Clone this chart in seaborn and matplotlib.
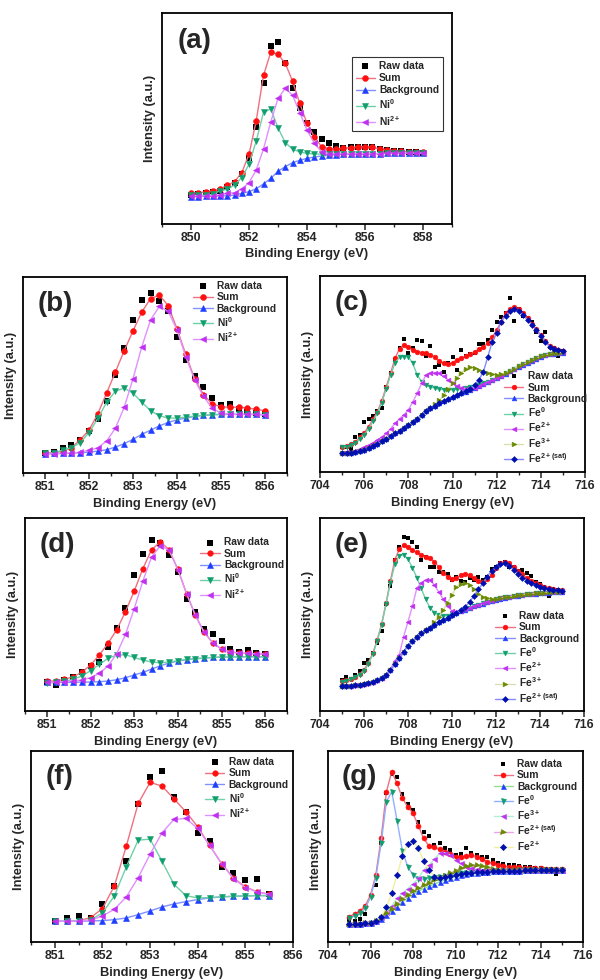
import matplotlib
matplotlib.use("Agg")
import matplotlib.pyplot as plt
from matplotlib.ticker import MultipleLocator
import seaborn as sns

sns.set_style("ticks")
plt.rcParams["font.family"] = ["Liberation Sans", "DejaVu Sans"]
plt.rcParams["font.weight"] = "bold"
plt.rcParams["mathtext.default"] = "regular"

# ---------------- data (arbitrary intensity units) ----------------
# Ni 2p, panel (a)
a_x = [850.0, 850.25, 850.5, 850.75, 851.0, 851.25, 851.5, 851.75, 852.0, 852.25, 852.5,
       852.75, 853.0, 853.25, 853.5, 853.75, 854.0, 854.25, 854.5, 854.75, 855.0, 855.25,
       855.5, 855.75, 856.0, 856.25, 856.5, 856.75, 857.0, 857.25, 857.5, 857.75, 858.0]
a_raw = [87, 89, 92, 95, 100, 112, 124, 150, 197, 290, 424, 535, 547, 482, 409, 347, 302,
         277, 255, 244, 234, 229, 230, 231, 232, 230, 226, 222, 220, 218, 216, 216, 214]
a_sum = [92, 94, 96, 100, 105, 116, 127, 154, 209, 310, 446, 515, 510, 482, 429, 362, 302,
         262, 232, 226, 225, 227, 229, 231, 232, 230, 226, 223, 220, 218, 217, 216, 215]
a_bg = [82, 82, 83, 84, 84, 85, 87, 92, 97, 106, 120, 137, 158, 172, 184, 191, 197, 201,
        204, 206, 208, 209, 210, 210, 211, 211, 211, 212, 212, 212, 212, 212, 212]
a_ni0 = [86, 86, 87, 89, 100, 104, 117, 139, 179, 249, 335, 345, 289, 244, 225, 216, 212,
         210, 210, 210, 210, 210, 211, 211, 211, 211, 211, 212, 212, 212, 212, 212, 212]
a_ni2 = [84, 84, 84, 85, 87, 92, 94, 105, 124, 162, 225, 306, 377, 407, 387, 334, 282,
         242, 217, 211, 210, 210, 211, 211, 211, 211, 211, 212, 212, 212, 212, 212, 212]

# Ni 2p, panels (b) and (d) share the energy grid
bd_x = [851.0, 851.2, 851.4, 851.6, 851.8, 852.0, 852.2, 852.4, 852.6, 852.8, 853.0, 853.2,
        853.4, 853.6, 853.8, 854.0, 854.2, 854.4, 854.6, 854.8, 855.0, 855.2, 855.4, 855.6,
        855.8, 856.0]
b_raw = [60, 61, 73, 83, 97, 125, 160, 215, 290, 371, 455, 513, 535, 512, 480, 403, 337,
         287, 255, 222, 203, 205, 190, 182, 178, 175]
b_sum = [60, 60, 65, 75, 99, 127, 176, 237, 300, 363, 422, 478, 518, 528, 497, 428, 352,
         280, 233, 205, 197, 195, 195, 193, 189, 185]
b_bg = [57, 58, 58, 59, 60, 62, 65, 69, 77, 87, 100, 115, 127, 140, 150, 158, 163, 168,
        171, 173, 174, 174, 174, 174, 174, 173]
b_ni0 = [58, 59, 68, 75, 90, 120, 162, 210, 243, 252, 237, 210, 185, 170, 163, 163, 166,
         169, 171, 173, 174, 174, 174, 174, 174, 173]
b_ni2 = [57, 57, 58, 59, 62, 67, 75, 95, 133, 195, 280, 375, 455, 495, 480, 425, 345, 277,
         228, 192, 178, 175, 174, 174, 174, 173]

d_raw = [88, 78, 93, 101, 118, 135, 148, 191, 248, 309, 409, 471, 515, 505, 469, 417, 336,
         297, 246, 230, 209, 185, 177, 182, 174, 172]
d_sum = [90, 90, 95, 103, 116, 138, 168, 203, 244, 298, 360, 428, 485, 508, 485, 426, 353,
         288, 237, 205, 186, 177, 174, 173, 172, 171]
d_bg = [86, 86, 86, 86, 87, 87, 88, 90, 94, 100, 108, 116, 126, 136, 144, 150, 154, 157,
        159, 161, 162, 162, 163, 163, 163, 163]
d_ni0 = [84, 86, 89, 95, 105, 121, 140, 158, 168, 169, 161, 153, 147, 145, 147, 151, 155,
         157, 159, 161, 162, 162, 163, 163, 163, 163]
d_ni2 = [86, 86, 88, 90, 93, 100, 113, 135, 172, 230, 307, 391, 463, 497, 483, 425, 353,
         288, 237, 205, 186, 178, 175, 173, 172, 171]

# Ni 2p, panel (f)
f_x = [851.0, 851.25, 851.5, 851.75, 852.0, 852.25, 852.5, 852.75, 853.0, 853.25, 853.5,
       853.75, 854.0, 854.25, 854.5, 854.75, 855.0, 855.25, 855.5]
f_raw = [62, 73, 77, 73, 115, 168, 243, 412, 494, 512, 435, 390, 325, 302, 225, 207, 185, 189, 143]
f_sum = [62, 62, 64, 73, 100, 168, 287, 415, 478, 467, 429, 390, 345, 289, 235, 192, 165, 150, 143]
f_bg = [62, 62, 62, 63, 64, 67, 72, 82, 93, 105, 114, 121, 127, 132, 135, 137, 138, 139, 139]
f_ni0 = [62, 62, 63, 66, 87, 138, 225, 305, 308, 242, 173, 139, 132, 133, 135, 137, 138, 139, 139]
f_ni2 = [62, 62, 63, 65, 78, 98, 135, 193, 263, 327, 367, 370, 340, 289, 235, 190, 163, 150, 143]

# Fe 2p, panels (c) and (e) share the energy grid
ce_x = [705.0, 705.2, 705.4, 705.6, 705.8, 706.0, 706.2, 706.4, 706.6, 706.8, 707.0, 707.2,
        707.4, 707.6, 707.8, 708.0, 708.2, 708.4, 708.6, 708.8, 709.0, 709.2, 709.4, 709.6,
        709.8, 710.0, 710.2, 710.4, 710.6, 710.8, 711.0, 711.2, 711.4, 711.6, 711.8, 712.0,
        712.2, 712.4, 712.6, 712.8, 713.0, 713.2, 713.4, 713.6, 713.8, 714.0, 714.2, 714.4,
        714.6, 714.8, 715.0]
c_raw = [76, 76, 69, 106, 111, 149, 158, 168, 184, 192, 256, 298, 336, 373, 398, 358, 371,
         396, 394, 348, 378, 316, 321, 301, 326, 346, 306, 366, 348, 354, 356, 384, 384, 396,
         426, 451, 466, 478, 523, 454, 488, 468, 461, 451, 421, 394, 420, 376, 371, 348, 363]
c_sum = [76, 78, 84, 90, 104, 118, 136, 158, 181, 214, 256, 298, 341, 370, 381, 374, 366,
         361, 358, 356, 351, 346, 333, 326, 324, 328, 336, 341, 348, 353, 361, 368, 376, 386,
         404, 426, 451, 476, 490, 494, 490, 476, 461, 444, 428, 411, 394, 379, 371, 366, 363]
c_bg = [56, 57, 58, 60, 63, 66, 71, 77, 84, 92, 100, 108, 116, 124, 132, 140, 150, 160, 171,
        182, 192, 199, 206, 213, 220, 226, 231, 236, 241, 246, 251, 257, 263, 269, 275, 281,
        288, 295, 302, 309, 316, 322, 328, 334, 340, 346, 350, 353, 355, 357, 358]
c_fe0 = [74, 76, 80, 86, 98, 112, 130, 152, 176, 208, 250, 290, 328, 344, 346, 346, 326,
         291, 271, 261, 256, 251, 249, 247, 246, 247, 248, 250, 252, 255, 258, 262, 266, 270,
         276, 282, 289, 296, 303, 310, 317, 323, 329, 335, 341, 347, 351, 354, 356, 358, 359]
c_fe2 = [58, 59, 61, 64, 68, 74, 80, 88, 96, 105, 116, 130, 146, 160, 172, 186, 210, 236,
         266, 291, 298, 298, 296, 288, 276, 266, 258, 253, 250, 250, 253, 258, 264, 270, 276,
         282, 289, 296, 303, 310, 317, 323, 329, 335, 341, 347, 351, 354, 356, 358, 359]
c_fe3 = [56, 57, 58, 60, 63, 66, 71, 77, 84, 92, 100, 108, 116, 124, 132, 140, 150, 160, 171,
         182, 192, 203, 215, 230, 248, 266, 282, 298, 310, 314, 312, 306, 301, 296, 293, 292,
         293, 297, 303, 310, 317, 323, 329, 335, 341, 347, 351, 354, 356, 358, 359]
c_sat = [56, 57, 58, 60, 63, 66, 71, 77, 84, 92, 100, 108, 116, 124, 132, 140, 150, 160, 171,
         182, 192, 199, 206, 213, 220, 226, 231, 238, 243, 250, 261, 277, 301, 346, 391, 416,
         451, 468, 483, 488, 483, 471, 456, 441, 426, 408, 391, 376, 370, 366, 362]

e_raw = [93, 103, 95, 108, 121, 145, 153, 175, 203, 241, 321, 375, 453, 493, 521, 518, 508,
         493, 453, 461, 433, 433, 418, 418, 411, 393, 401, 391, 388, 398, 393, 403, 393, 403,
         425, 431, 445, 448, 431, 433, 421, 423, 413, 405, 388, 381, 373, 345, 366, 363, 361]
e_sum = [90, 93, 97, 103, 111, 123, 145, 173, 213, 261, 323, 391, 453, 485, 498, 493, 483,
         476, 468, 463, 458, 448, 431, 415, 401, 395, 400, 407, 410, 407, 398, 390, 388, 396,
         408, 428, 443, 448, 443, 431, 421, 410, 400, 391, 383, 377, 373, 369, 366, 364, 362]
e_bg = [75, 75, 76, 77, 79, 81, 84, 88, 94, 100, 108, 122, 140, 158, 178, 196, 210, 222, 233,
        242, 250, 258, 266, 273, 280, 287, 293, 299, 304, 309, 314, 318, 322, 326, 330, 334,
        337, 340, 342, 344, 346, 348, 350, 351, 352, 353, 354, 355, 356, 357, 358]
e_fe0 = [88, 91, 95, 101, 109, 120, 142, 170, 210, 258, 320, 385, 440, 466, 468, 455, 430,
         400, 368, 335, 310, 295, 288, 285, 285, 290, 295, 300, 305, 310, 315, 319, 323, 327,
         331, 335, 338, 341, 343, 345, 347, 349, 351, 352, 353, 354, 355, 356, 357, 358, 359]
e_fe2 = [75, 75, 76, 77, 79, 81, 84, 88, 94, 100, 110, 126, 150, 168, 223, 268, 315, 368,
         385, 393, 393, 378, 357, 335, 315, 300, 297, 301, 305, 310, 315, 319, 323, 327, 331,
         335, 338, 341, 343, 345, 347, 349, 351, 352, 353, 354, 355, 356, 357, 358, 359]
e_fe3 = [75, 75, 76, 77, 79, 81, 84, 88, 94, 100, 108, 122, 140, 158, 178, 196, 210, 222,
         233, 242, 250, 268, 282, 302, 325, 348, 372, 381, 383, 377, 365, 352, 343, 338, 336,
         336, 338, 341, 343, 345, 347, 349, 351, 352, 353, 354, 355, 356, 357, 358, 359]
e_sat = [75, 75, 76, 77, 79, 81, 84, 88, 94, 100, 108, 122, 140, 158, 178, 196, 210, 222,
         233, 242, 250, 258, 266, 273, 280, 287, 293, 302, 312, 328, 345, 365, 383, 403, 421,
         431, 441, 443, 435, 423, 411, 400, 391, 383, 377, 373, 369, 366, 364, 362, 360]

# Fe 2p, panel (g)
g_x = [705.0, 705.25, 705.5, 705.75, 706.0, 706.25, 706.5, 706.75, 707.0, 707.25, 707.5,
       707.75, 708.0, 708.25, 708.5, 708.75, 709.0, 709.25, 709.5, 709.75, 710.0, 710.25,
       710.5, 710.75, 711.0, 711.25, 711.5, 711.75, 712.0, 712.25, 712.5, 712.75, 713.0,
       713.25, 713.5, 713.75, 714.0, 714.25, 714.5, 714.75, 715.0]
g_raw = [66, 64, 69, 83, 139, 171, 296, 446, 503, 496, 443, 414, 396, 361, 331, 318, 291,
         296, 281, 276, 261, 264, 281, 268, 261, 256, 256, 246, 238, 234, 231, 231, 228, 226,
         224, 221, 221, 220, 218, 204, 218]
g_sum = [76, 84, 93, 108, 141, 201, 311, 451, 511, 476, 431, 406, 386, 349, 311, 288, 284,
         278, 271, 264, 256, 256, 258, 260, 256, 248, 241, 236, 231, 228, 226, 225, 224, 223,
         222, 221, 221, 220, 220, 219, 218]
g_bg = [54, 54, 54, 56, 58, 62, 70, 80, 92, 106, 120, 132, 143, 152, 160, 167, 174, 180, 186,
        191, 196, 200, 203, 206, 208, 210, 211, 212, 213, 213, 214, 214, 214, 215, 215, 215,
        215, 215, 215, 215, 215]
g_fe0 = [71, 78, 86, 101, 134, 193, 296, 421, 451, 364, 274, 226, 201, 189, 189, 191, 194,
         196, 199, 202, 204, 206, 208, 209, 210, 211, 212, 213, 213, 214, 214, 214, 215, 215,
         215, 215, 215, 215, 215, 215, 215]
g_fe3 = [55, 55, 56, 58, 61, 66, 76, 90, 108, 131, 146, 160, 174, 191, 216, 230, 248, 266,
         268, 261, 246, 236, 226, 221, 218, 216, 216, 215, 215, 215, 215, 215, 215, 215, 215,
         215, 215, 215, 215, 215, 215]
g_sat = [54, 54, 54, 56, 58, 62, 72, 86, 98, 114, 129, 141, 152, 161, 170, 178, 186, 193,
         199, 206, 214, 221, 228, 231, 231, 228, 224, 220, 217, 216, 215, 215, 215, 215, 215,
         215, 215, 215, 215, 215, 215]
g_fe2 = [54, 54, 54, 56, 58, 62, 76, 104, 148, 201, 258, 294, 303, 281, 244, 216, 196, 193,
         196, 199, 202, 204, 206, 208, 209, 210, 211, 212, 213, 213, 214, 214, 214, 215, 215,
         215, 215, 215, 215, 215, 215]

ni_labels = ["Raw data", "Sum", "Background", "Ni$^{0}$", "Ni$^{2+}$"]
fe_labels = ["Raw data", "Sum", "Background", "Fe$^{0}$", "Fe$^{2+}$", "Fe$^{3+}$", "Fe$^{2+(sat)}$"]
g_labels = ["Raw data", "Sum", "Background", "Fe$^{0}$", "Fe$^{3+}$", "Fe$^{2+(sat)}$", "Fe$^{2+}$"]

# marker, marker colour, line colour for each fitted curve
ni_styles = [("o", "#ff1010", "#f07080"), ("^", "#1f3fff", "#8090ff"),
             ("v", "#119e6e", "#70d0a8"), ("<", "#c030f0", "#e090ff")]
fe_styles = [("o", "#ff1010", "#f07080"), ("^", "#1f3fff", "#8090ff"),
             ("v", "#119e6e", "#70d0a8"), ("<", "#c030f0", "#e090ff"),
             (">", "#6a8a00", "#d8e0b0"), ("D", "#0010b0", "#8888ff")]
g_styles = [("o", "#ff1010", "#f07080"), ("^", "#1f3fff", "#90e090"),
            ("v", "#119e6e", "#90b0ff"), ("<", "#c030f0", "#b0f0d0"),
            (">", "#6a8a00", "#f0a0f0"), ("D", "#0010b0", "#f0f0a0")]

FW, FH = 600, 980
fig = plt.figure(figsize=(FW / 100, FH / 100), dpi=100)


def panel(px, letter, x, raw, curves, styles, labels, xlim, major, minor, ymax,
          leg_anchor, frame=False, ms=4.0, raw_s=13, dsize=None):
    l, t, r, b = px
    ax = fig.add_axes([l / FW, 1 - b / FH, (r - l) / FW, (b - t) / FH])
    sns.scatterplot(x=x, y=raw, marker="s", color="black", s=raw_s, linewidth=0,
                    ax=ax, label=labels[0], zorder=2)
    for i, (y, (m, mc, lc)) in enumerate(zip(curves, styles)):
        size = ms * 0.8 if (m == "D" and dsize is None) else (dsize if m == "D" else ms)
        sns.lineplot(x=x, y=y, ax=ax, color=lc, lw=1.0, marker=m, markersize=size,
                     markerfacecolor=mc, markeredgecolor=mc, markeredgewidth=0.4,
                     label=labels[i + 1], estimator=None, sort=False, zorder=3 + i)
    ax.set_xlim(*xlim)
    ax.set_ylim(0, ymax)
    ax.xaxis.set_major_locator(MultipleLocator(major))
    ax.xaxis.set_minor_locator(MultipleLocator(minor))
    ax.set_yticks([])
    ax.tick_params(axis="x", which="major", direction="out", length=4, width=1.1,
                   labelsize=8.8, pad=2)
    ax.tick_params(axis="x", which="minor", direction="out", length=2.5, width=1.0)
    for lab in ax.get_xticklabels():
        lab.set_fontweight("bold")
    for sp in ax.spines.values():
        sp.set_linewidth(1.3)
        sp.set_color("black")
    ax.set_xlabel("Binding Energy (eV)", fontsize=9.3, fontweight="bold", labelpad=3)
    ax.set_ylabel("Intensity (a.u.)", fontsize=9.3, fontweight="bold", labelpad=4)
    ax.text(0.055, 0.93, letter, transform=ax.transAxes, fontsize=20,
            fontweight="bold", va="top", ha="left")
    leg = ax.legend(loc="upper left", bbox_to_anchor=leg_anchor, frameon=frame,
                    prop={"weight": "bold", "size": 7.4}, handlelength=1.9,
                    handletextpad=0.4, labelspacing=0.22 if frame else 0.14,
                    borderpad=0.35 if frame else 0.1, borderaxespad=0, fancybox=False)
    if frame:
        leg.get_frame().set_edgecolor("black")
        leg.get_frame().set_linewidth(0.8)
    return ax


panel((162, 13, 452, 224), "(a)", a_x, a_raw, [a_sum, a_bg, a_ni0, a_ni2], ni_styles,
      ni_labels, (849, 859), 2, 1, 633, (0.655, 0.79), frame=True, ms=4.2)
panel((23, 277, 287, 473), "(b)", bd_x, b_raw, [b_sum, b_bg, b_ni0, b_ni2], ni_styles,
      ni_labels, (850.5, 856.5), 1, 0.5, 582, (0.64, 0.985), ms=4.2)
panel((320, 276, 585, 472), "(c)", ce_x, c_raw, [c_sum, c_bg, c_fe0, c_fe2, c_fe3, c_sat],
      fe_styles, fe_labels, (704, 716), 2, 1, 588, (0.69, 0.52), ms=3.4, raw_s=10, dsize=3.0)
panel((25, 518, 287, 711), "(d)", bd_x, d_raw, [d_sum, d_bg, d_ni0, d_ni2], ni_styles,
      ni_labels, (850.5, 856.5), 1, 0.5, 580, (0.665, 0.905), ms=4.0)
panel((320, 518, 584, 711), "(e)", ce_x, e_raw, [e_sum, e_bg, e_fe0, e_fe2, e_fe3, e_sat],
      fe_styles, fe_labels, (704, 716), 2, 1, 579, (0.66, 0.525), ms=3.4, raw_s=10, dsize=3.0)
panel((31, 751, 293, 942), "(f)", f_x, f_raw, [f_sum, f_bg, f_ni0, f_ni2], ni_styles,
      ni_labels, (850.5, 856), 1, 0.5, 572, (0.66, 0.975), ms=4.0)
panel((328, 751, 583, 942), "(g)", g_x, g_raw, [g_sum, g_bg, g_fe0, g_fe3, g_sat, g_fe2],
      g_styles, g_labels, (704, 716), 2, 1, 573, (0.645, 0.965), ms=3.6, raw_s=11, dsize=3.2)

fig.savefig("out.png", dpi=100)
